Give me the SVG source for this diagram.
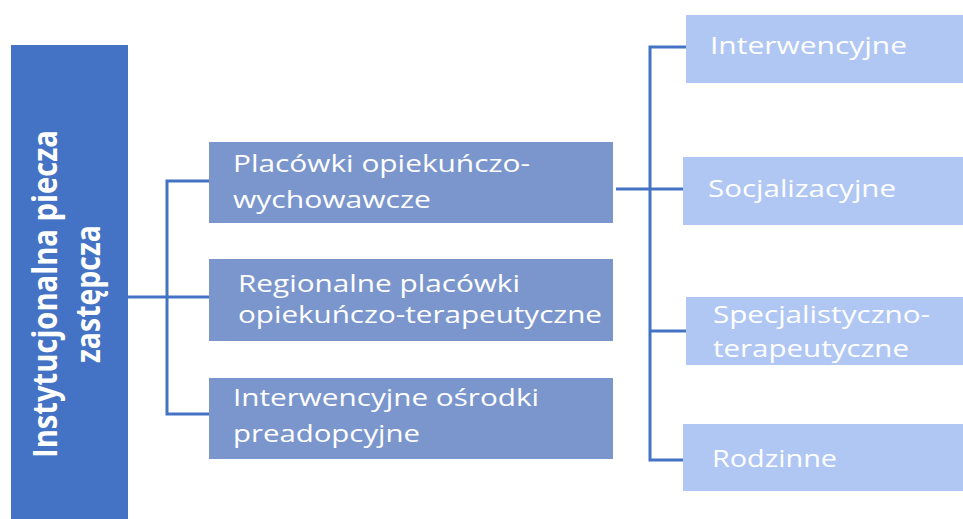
<svg xmlns="http://www.w3.org/2000/svg" width="963" height="519" viewBox="0 0 963 519">
<style>
.root{fill:#4472C4}
.mid{fill:#7B96CD}
.leaf{fill:#B0C7F4}
.t{font-family:"Open Sans","Noto Sans","Liberation Sans",sans-serif;fill:#FFFFFF;font-size:23px}
.tb{font-family:"Open Sans","Noto Sans","Liberation Sans",sans-serif;fill:#FFFFFF;font-size:34px;font-weight:bold}
.c{fill:none;stroke:#4472C4;stroke-width:3}
</style>
<rect width="963" height="519" fill="#FFFFFF"/>
<g id="connectors">
<path class="c" d="M128,297 H209"/>
<path class="c" d="M209,181 H167 V414 H209"/>
<path class="c" d="M616,189 H686"/>
<path class="c" d="M686,47 H650 V460 H686"/>
<path class="c" d="M650,331 H686"/>
</g>
<g id="n-root">
<rect class="root" x="11" y="45" width="117" height="480"/>
<text class="tb" transform="translate(57,294) rotate(-90)" text-anchor="middle" textLength="328" lengthAdjust="spacingAndGlyphs">Instytucjonalna piecza</text>
<text class="tb" transform="translate(100,294) rotate(-90)" text-anchor="middle" textLength="138" lengthAdjust="spacingAndGlyphs">zastępcza</text>
</g>
<g id="n-placowki">
<rect class="mid" x="209" y="142" width="404" height="81"/>
<text class="t" x="233" y="172" textLength="297" lengthAdjust="spacingAndGlyphs">Placówki opiekuńczo-</text>
<text class="t" x="233" y="208" textLength="198" lengthAdjust="spacingAndGlyphs">wychowawcze</text>
</g>
<g id="n-regionalne">
<rect class="mid" x="209" y="259" width="404" height="82"/>
<text class="t" x="238" y="292" textLength="282" lengthAdjust="spacingAndGlyphs">Regionalne placówki</text>
<text class="t" x="238" y="323" textLength="364" lengthAdjust="spacingAndGlyphs">opiekuńczo-terapeutyczne</text>
</g>
<g id="n-osrodki">
<rect class="mid" x="209" y="378" width="404" height="81"/>
<text class="t" x="233" y="406" textLength="306" lengthAdjust="spacingAndGlyphs">Interwencyjne ośrodki</text>
<text class="t" x="233" y="442" textLength="187" lengthAdjust="spacingAndGlyphs">preadopcyjne</text>
</g>
<g id="n-interwencyjne">
<rect class="leaf" x="686" y="15" width="280" height="68"/>
<text class="t" x="710" y="54" textLength="197" lengthAdjust="spacingAndGlyphs">Interwencyjne</text>
</g>
<g id="n-socjalizacyjne">
<rect class="leaf" x="683" y="157" width="283" height="68"/>
<text class="t" x="708" y="197" textLength="188" lengthAdjust="spacingAndGlyphs">Socjalizacyjne</text>
</g>
<g id="n-specjalistyczno">
<rect class="leaf" x="686" y="297" width="280" height="68"/>
<text class="t" x="713" y="323" textLength="217" lengthAdjust="spacingAndGlyphs">Specjalistyczno-</text>
<text class="t" x="713" y="357" textLength="196" lengthAdjust="spacingAndGlyphs">terapeutyczne</text>
</g>
<g id="n-rodzinne">
<rect class="leaf" x="683" y="424" width="283" height="67"/>
<text class="t" x="712" y="467" textLength="125" lengthAdjust="spacingAndGlyphs">Rodzinne</text>
</g>
</svg>
